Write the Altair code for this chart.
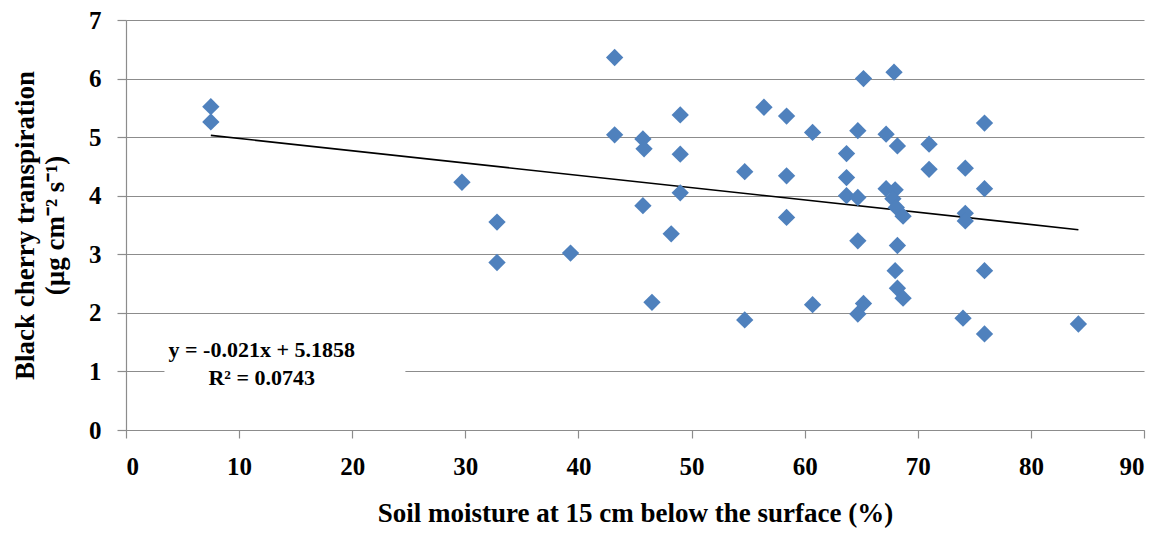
import altair as alt
import pandas as pd

# Scatter data
soil_moisture = [7.5, 7.5, 29.7, 32.8, 32.8, 39.3, 43.2, 43.2, 45.7, 45.8,
                 45.7, 46.5, 49.0, 49.0, 49.0, 48.2, 54.7, 54.7, 56.4, 58.4,
                 58.4, 58.4, 60.7, 60.7, 63.7, 63.7, 63.7, 64.7, 64.7, 64.7,
                 64.7, 65.2, 65.2, 67.2, 67.2, 67.9, 68.2, 68.0, 67.8, 68.1,
                 68.7, 68.2, 68.0, 68.2, 68.7, 71.0, 71.0, 74.2, 74.2, 74.2,
                 74.0, 75.9, 75.9, 75.9, 75.9, 84.2]
transpiration = [5.52, 5.26, 4.23, 3.55, 2.86, 3.02, 6.36, 5.04, 4.97, 4.80,
                 3.83, 2.18, 5.38, 4.71, 4.05, 3.35, 4.41, 1.88, 5.51, 5.36,
                 4.34, 3.63, 5.08, 2.14, 4.72, 4.31, 4.00, 5.11, 3.97, 3.23,
                 1.98, 6.00, 2.16, 5.05, 4.12, 6.11, 4.85, 4.10, 3.95, 3.80,
                 3.65, 3.15, 2.72, 2.42, 2.25, 4.88, 4.45, 4.47, 3.70, 3.57,
                 1.91, 5.24, 4.12, 2.72, 1.64, 1.81]

# Linear trendline endpoints
trend_x = [7.5, 84.2]
trend_y = [5.03, 3.42]

equation_lines = ["y = -0.021x + 5.1858", "R\u00b2 = 0.0743"]

x_ticks = list(range(0, 91, 10))
y_ticks = list(range(0, 8))

FONT = "Liberation Serif"
BLUE = "#4F81BD"
GRID = "#8C8C8C"

pts = pd.DataFrame({"x": soil_moisture, "y": transpiration})
trend = pd.DataFrame({"x": trend_x, "y": trend_y})
eq = pd.DataFrame({"x": [12.0, 12.0], "y": [1.37, 0.88], "t": equation_lines})
box = pd.DataFrame({"x": [3.4], "x2": [24.7], "y": [0.55], "y2": [1.65]})

xscale = alt.Scale(domain=[0, 90], nice=False, zero=False)
yscale = alt.Scale(domain=[0, 7], nice=False, zero=False)

xaxis = alt.Axis(values=x_ticks, format="d",
                 title="Soil moisture at 15 cm below the surface (%)",
                 grid=False, tickSize=8, labelPadding=16, titlePadding=21)
yaxis = alt.Axis(values=y_ticks, format="d",
                 title=["Black cherry transpiration", "(\u00b5g cm\u207b\u00b2 s\u207b\u00b9)"],
                 grid=True, tickSize=9, labelPadding=16, titlePadding=19,
                 titleLineHeight=30)

points = alt.Chart(pts).mark_point(shape="diamond", filled=True, size=300,
                                   color=BLUE, opacity=1).encode(
    x=alt.X("x:Q", scale=xscale, axis=xaxis),
    y=alt.Y("y:Q", scale=yscale, axis=yaxis),
)

line = alt.Chart(trend).mark_line(color="black", strokeWidth=1.6).encode(
    x=alt.X("x:Q", scale=xscale),
    y=alt.Y("y:Q", scale=yscale),
)

rect = alt.Chart(box).mark_rect(color="white").encode(
    x=alt.X("x:Q", scale=xscale), x2="x2:Q",
    y=alt.Y("y:Q", scale=yscale), y2="y2:Q",
)

text = alt.Chart(eq).mark_text(font=FONT, fontSize=22, fontWeight="bold",
                               color="black", align="center", baseline="middle").encode(
    x=alt.X("x:Q", scale=xscale),
    y=alt.Y("y:Q", scale=yscale),
    text="t:N",
)

chart = alt.layer(rect, line, points, text).properties(
    width=1018, height=410,
    autosize=alt.AutoSizeParams(type="none"),
    padding={"left": 118, "top": 12, "right": 10, "bottom": 101},
).configure_view(stroke=None).configure_axis(
    labelFont=FONT, labelFontSize=25, labelFontWeight="bold", labelColor="black",
    titleFont=FONT, titleFontSize=27, titleFontWeight="bold", titleColor="black",
    domainColor=GRID, tickColor=GRID, gridColor=GRID, domainWidth=1.2,
    tickWidth=1.2, gridWidth=1.2,
)

chart.save("out.html", embed_options={"renderer": "svg", "actions": False})
